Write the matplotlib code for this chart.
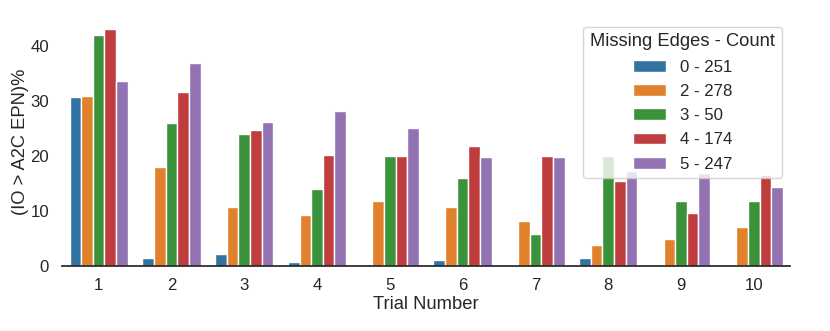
import matplotlib
matplotlib.use("Agg")
import matplotlib.pyplot as plt
import seaborn as sns
import pandas as pd

trials = [1, 2, 3, 4, 5, 6, 7, 8, 9, 10]
groups = ["0 - 251", "2 - 278", "3 - 50", "4 - 174", "5 - 247"]

edges0 = [30.6, 1.45, 2.2, 0.6, 0.2, 1.0, 0.0, 1.45, 0.2, 0.2]
edges2 = [30.8, 17.9, 10.7, 9.2, 11.8, 10.7, 8.2, 3.8, 4.9, 7.0]
edges3 = [42.0, 25.9, 23.9, 13.9, 19.9, 15.9, 5.8, 19.9, 11.8, 11.8]
edges4 = [43.0, 31.5, 24.6, 20.1, 20.0, 21.8, 20.0, 15.4, 9.6, 16.5]
edges5 = [33.6, 36.8, 26.2, 28.2, 25.0, 19.7, 19.7, 17.3, 16.9, 14.4]

rows = []
for g, vals in zip(groups, [edges0, edges2, edges3, edges4, edges5]):
    for t, v in zip(trials, vals):
        rows.append({"Trial Number": t, "val": v, "Missing Edges - Count": g})
df = pd.DataFrame(rows)

sns.set_theme(style="white", font_scale=1.1)
plt.rcParams['font.family'] = ['Liberation Sans', 'DejaVu Sans']

fig, ax = plt.subplots(figsize=(8.3, 3.31), dpi=100)
sns.barplot(data=df, x="Trial Number", y="val", hue="Missing Edges - Count",
            palette="tab10", saturation=0.75, ax=ax)
ax.set_ylabel("(IO > A2C EPN)%", labelpad=1)
ax.set_xlabel("Trial Number", labelpad=2)
ax.set_ylim(0, 45)
ax.set_yticks([0, 10, 20, 30, 40])
ax.tick_params(axis='x', pad=3)
sns.despine(left=True)
leg = ax.legend(title="Missing Edges - Count", loc="upper right", labelspacing=0.55)
plt.subplots_adjust(left=0.075, right=0.952, top=0.945, bottom=0.197)
fig.savefig("out.png", dpi=100)
